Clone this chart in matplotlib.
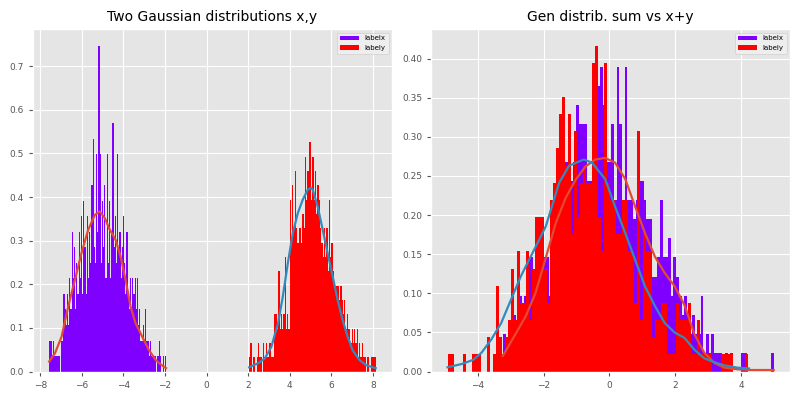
import numpy as np
import matplotlib
matplotlib.use("Agg")
import matplotlib.pyplot as plt

plt.style.use("ggplot")

N_SAMPLES = 500
N_BINS = 100

# ---- left panel: two gaussian samples (counts per bin) ----
x_range = (-7.57, -1.95)
x_counts = [2, 2, 1, 2, 1, 1, 1, 1, 1, 0,
            2, 2, 5, 4, 3, 5, 3, 6, 4, 9,
            6, 8, 4, 7, 5, 9, 6, 10, 5, 11,
            8, 5, 10, 6, 9, 7, 12, 15, 8, 7,
            14, 9, 21, 14, 7, 11, 8, 12, 6, 14,
            7, 11, 6, 9, 16, 8, 10, 7, 14, 8,
            9, 6, 8, 10, 7, 5, 9, 5, 4, 6,
            4, 6, 5, 6, 4, 6, 3, 4, 2, 2,
            3, 2, 4, 2, 2, 1, 2, 1, 1, 1,
            1, 0, 1, 1, 2, 1, 0, 1, 0, 1]

y_range = (2.05, 8.14)
y_counts = [1, 2, 0, 1, 1, 0, 1, 2, 1, 1,
            0, 2, 1, 2, 1, 1, 2, 1, 1, 1,
            4, 4, 3, 7, 3, 4, 3, 4, 8, 3,
            4, 3, 12, 9, 13, 10, 14, 10, 9, 10,
            10, 9, 11, 10, 15, 12, 14, 16, 16, 12,
            15, 12, 14, 11, 13, 12, 10, 9, 8, 10,
            8, 10, 7, 12, 8, 9, 7, 6, 6, 6,
            6, 5, 6, 5, 4, 5, 3, 4, 3, 3,
            2, 3, 2, 3, 2, 3, 1, 2, 1, 2,
            1, 1, 0, 1, 1, 0, 1, 1, 1, 1]

# ---- right panel: generated sum vs x+y (counts per bin) ----
sum_range = (-3.24, 4.99)
sum_counts = [2, 1, 1, 2, 3, 2, 4, 3, 4, 6,
              6, 5, 5, 7, 6, 6, 6, 4, 8, 7,
              9, 10, 8, 11, 9, 10, 11, 14, 13, 13,
              13, 10, 10, 9, 12, 15, 16, 14, 11, 11,
              13, 9, 16, 13, 7, 16, 9, 9, 8, 9,
              10, 10, 9, 8, 8, 5, 5, 6, 9, 6,
              6, 7, 4, 6, 5, 4, 3, 4, 3, 2,
              3, 2, 2, 4, 1, 2, 1, 2, 1, 1,
              1, 0, 1, 0, 1, 0, 0, 0, 1, 1,
              0, 0, 0, 0, 0, 0, 0, 0, 0, 1]

xy_range = (-4.92, 4.20)
xy_counts = [1, 1, 0, 0, 0, 1, 0, 0, 1, 1,
             1, 0, 0, 2, 0, 1, 5, 2, 1, 2,
             3, 6, 3, 7, 4, 4, 7, 3, 6, 9,
             9, 9, 6, 4, 10, 11, 13, 15, 16, 12,
             15, 8, 14, 9, 11, 12, 11, 11, 18, 19,
             9, 7, 18, 11, 10, 10, 8, 8, 10, 10,
             7, 7, 4, 14, 3, 8, 7, 7, 2, 3,
             3, 4, 4, 1, 1, 1, 4, 3, 3, 3,
             4, 1, 1, 3, 1, 1, 1, 1, 0, 0,
             0, 1, 1, 1, 1, 0, 0, 0, 0, 1]

# ---- density curves ----
x_curve_x = [-7.58, -7.30, -6.98, -6.66, -6.34, -6.02, -5.70, -5.38, -5.14, -4.90,
             -4.70, -4.38, -4.14, -3.90, -3.66, -3.42, -3.10, -2.78, -2.46, -2.14, -1.95]
x_curve_y = [0.023, 0.042, 0.080, 0.149, 0.210, 0.272, 0.325, 0.359, 0.367, 0.352,
             0.329, 0.302, 0.264, 0.210, 0.149, 0.111, 0.080, 0.050, 0.027, 0.014, 0.008]

y_curve_x = [2.05, 2.48, 2.80, 3.12, 3.44, 3.67, 3.91, 4.15, 4.39, 4.63, 4.87, 5.03,
             5.11, 5.35, 5.59, 5.83, 6.07, 6.31, 6.55, 6.79, 7.03, 7.35, 7.67, 7.99, 8.14]
y_curve_y = [0.010, 0.019, 0.030, 0.057, 0.111, 0.172, 0.248, 0.317, 0.363, 0.394, 0.417, 0.421,
             0.417, 0.378, 0.325, 0.271, 0.218, 0.164, 0.118, 0.080, 0.049, 0.027, 0.015, 0.010, 0.008]

sum_curve_x = [-3.24, -2.84, -2.54, -2.25, -1.93, -1.63, -1.33, -1.03, -0.73, -0.43, -0.13,
               0.17, 0.48, 0.78, 1.08, 1.38, 1.68, 1.98, 2.28, 2.58, 2.88, 3.19, 3.49,
               3.89, 4.29, 4.99]
sum_curve_y = [0.020, 0.049, 0.071, 0.100, 0.146, 0.190, 0.222, 0.245, 0.262, 0.271, 0.273,
               0.267, 0.246, 0.211, 0.177, 0.147, 0.126, 0.109, 0.085, 0.048, 0.024, 0.011, 0.005,
               0.003, 0.002, 0.002]

xy_curve_x = [-4.92, -4.49, -4.14, -3.89, -3.59, -3.29, -2.99, -2.69, -2.44, -2.20, -1.93,
              -1.53, -1.23, -0.78, -0.53, -0.13, 0.17, 0.48, 0.78, 1.08, 1.38, 1.68, 1.98,
              2.28, 2.58, 2.88, 3.19, 3.49, 3.89, 4.24]
xy_curve_y = [0.0055, 0.0097, 0.015, 0.024, 0.041, 0.062, 0.092, 0.122, 0.143, 0.163, 0.186,
              0.241, 0.263, 0.271, 0.267, 0.246, 0.211, 0.177, 0.143, 0.109, 0.084, 0.062, 0.050,
              0.043, 0.028, 0.017, 0.012, 0.008, 0.005, 0.004]

PURPLE = "#7F00FF"
RED = "#FF0000"
ORANGE = "#E24A33"
BLUE = "#348ABD"


def draw_hist(ax, rng, counts, color, label):
    edges = np.linspace(rng[0], rng[1], N_BINS + 1)
    centers = 0.5 * (edges[:-1] + edges[1:])
    bw = edges[1] - edges[0]
    dens = np.asarray(counts, dtype=float) / (N_SAMPLES * bw)
    ax.hist(centers, bins=edges, weights=dens, color=color, label=label)


fig = plt.figure(figsize=(8, 4), dpi=100)
ax1 = fig.add_axes([0.041, 0.071, 0.449, 0.856])
ax2 = fig.add_axes([0.539, 0.071, 0.4485, 0.856])

draw_hist(ax1, x_range, x_counts, PURPLE, "labelx")
draw_hist(ax1, y_range, y_counts, RED, "labely")
ax1.plot(x_curve_x, x_curve_y, color=ORANGE, lw=1.6)
ax1.plot(y_curve_x, y_curve_y, color=BLUE, lw=1.6)
ax1.set_title("Two Gaussian distributions x,y", fontsize=10)

draw_hist(ax2, sum_range, sum_counts, PURPLE, "labelx")
draw_hist(ax2, xy_range, xy_counts, RED, "labely")
ax2.plot(sum_curve_x, sum_curve_y, color=ORANGE, lw=1.6)
ax2.plot(xy_curve_x, xy_curve_y, color=BLUE, lw=1.6)
ax2.set_title("Gen distrib. sum vs x+y", fontsize=10)
ax2.yaxis.set_major_formatter(matplotlib.ticker.FormatStrFormatter("%.2f"))

for ax in (ax1, ax2):
    ax.tick_params(labelsize=6.5, length=3)
    ax.legend(loc="upper right", fontsize=5, facecolor="#F0F0F0", framealpha=0.9,
              handlelength=2.8, handleheight=0.6)

fig.savefig("out.png", dpi=100)
